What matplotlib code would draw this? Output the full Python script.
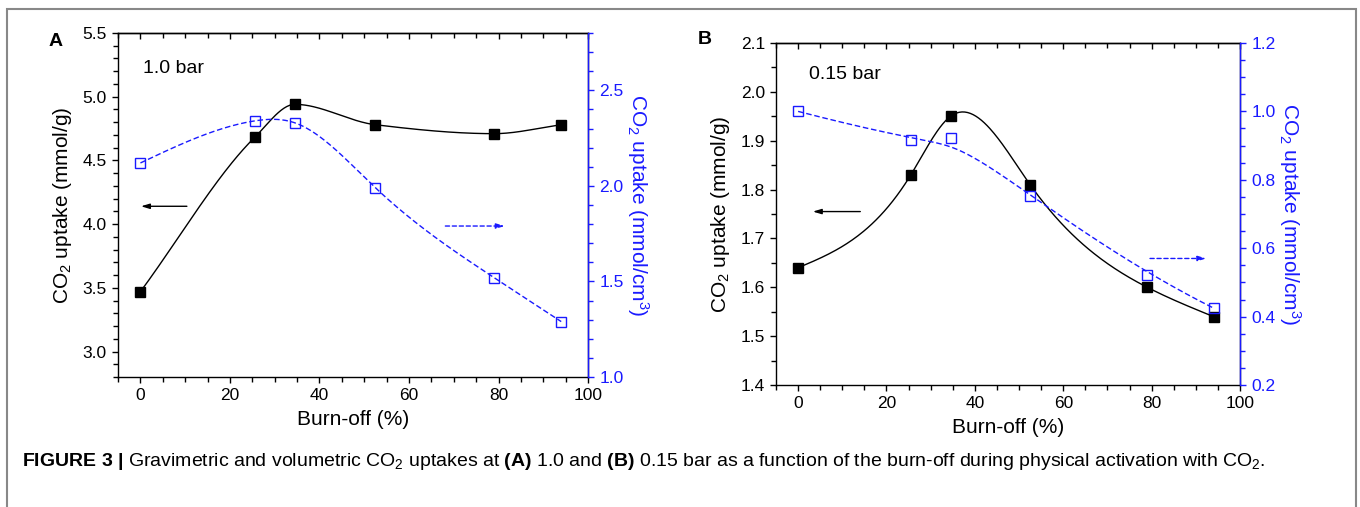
import numpy as np
import matplotlib
matplotlib.use("Agg")
import matplotlib.pyplot as plt
from matplotlib.patches import Rectangle
from matplotlib.ticker import MultipleLocator

plt.rcParams['font.family'] = ['Liberation Sans', 'DejaVu Sans']
plt.rcParams['mathtext.fontset'] = 'custom'
plt.rcParams['mathtext.rm'] = 'Liberation Sans'
plt.rcParams['mathtext.bf'] = 'Liberation Sans:bold'
plt.rcParams['mathtext.it'] = 'Liberation Sans:italic'

# Data
burnoff = [0, 25.5, 34.5, 52.5, 79, 94]
grav_1bar = [3.47, 4.68, 4.94, 4.78, 4.71, 4.78]     # mmol/g
vol_1bar = [2.12, 2.34, 2.33, 1.99, 1.52, 1.29]      # mmol/cm3
grav_015bar = [1.64, 1.83, 1.95, 1.81, 1.60, 1.54]   # mmol/g
vol_015bar = [1.00, 0.915, 0.923, 0.753, 0.522, 0.425]  # mmol/cm3

BLUE = '#1a1aff'
TICK_FS = 12.5
LABEL_FS = 15


# smooth curve through points (natural cubic spline)
def natural_spline(x, y, num=300):
    x = np.asarray(x, float)
    y = np.asarray(y, float)
    n = len(x)
    h = np.diff(x)
    A = np.zeros((n, n))
    r = np.zeros(n)
    A[0, 0] = A[-1, -1] = 1
    for i in range(1, n - 1):
        A[i, i - 1] = h[i - 1]
        A[i, i] = 2 * (h[i - 1] + h[i])
        A[i, i + 1] = h[i]
        r[i] = 3 * ((y[i + 1] - y[i]) / h[i] - (y[i] - y[i - 1]) / h[i - 1])
    c = np.linalg.solve(A, r)
    xs = np.linspace(x[0], x[-1], num)
    idx = np.clip(np.searchsorted(x, xs) - 1, 0, n - 2)
    dx = xs - x[idx]
    b = (y[1:] - y[:-1]) / h - h * (2 * c[:-1] + c[1:]) / 3
    d = (c[1:] - c[:-1]) / (3 * h)
    ys = y[idx] + b[idx] * dx + c[idx] * dx ** 2 + d[idx] * dx ** 3
    return xs, ys


# monotone cubic (no overshoot)
def pchip(x, y, num=300):
    x = np.asarray(x, float)
    y = np.asarray(y, float)
    n = len(x)
    h = np.diff(x)
    delta = np.diff(y) / h
    m = np.zeros(n)
    for i in range(1, n - 1):
        if delta[i - 1] * delta[i] > 0:
            w1 = 2 * h[i] + h[i - 1]
            w2 = h[i] + 2 * h[i - 1]
            m[i] = (w1 + w2) / (w1 / delta[i - 1] + w2 / delta[i])
    m[0] = delta[0]
    m[-1] = delta[-1]
    xs = np.linspace(x[0], x[-1], num)
    idx = np.clip(np.searchsorted(x, xs) - 1, 0, n - 2)
    t = (xs - x[idx]) / h[idx]
    h00 = 2 * t ** 3 - 3 * t ** 2 + 1
    h10 = t ** 3 - 2 * t ** 2 + t
    h01 = -2 * t ** 3 + 3 * t ** 2
    h11 = t ** 3 - t ** 2
    ys = (h00 * y[idx] + h10 * h[idx] * m[idx]
          + h01 * y[idx + 1] + h11 * h[idx] * m[idx + 1])
    return xs, ys


# approximating B-spline with the points as control points
def bspline(xs, ys, k=3, num=300):
    P = np.column_stack([xs, ys]).astype(float)
    n = len(P)
    knots = np.r_[[0.0] * k, np.linspace(0, 1, n - k + 1), [1.0] * k]
    t = np.linspace(0, 1, num)
    t[-1] -= 1e-9
    B = np.array([((knots[i] <= t) & (t < knots[i + 1])).astype(float)
                  for i in range(len(knots) - 1)]).T
    for p in range(1, k + 1):
        Bn = np.zeros((num, len(knots) - 1 - p))
        for i in range(len(knots) - 1 - p):
            d1 = knots[i + p] - knots[i]
            d2 = knots[i + p + 1] - knots[i + 1]
            a = (t - knots[i]) / d1 * B[:, i] if d1 > 0 else 0
            b = (knots[i + p + 1] - t) / d2 * B[:, i + 1] if d2 > 0 else 0
            Bn[:, i] = a + b
        B = Bn
    curve = B @ P
    return curve[:, 0], curve[:, 1]


def style_axes(ax, ax2, ymaj, ymin, y2maj, y2min):
    ax.set_xlim(-5, 100)
    ax.xaxis.set_major_locator(MultipleLocator(20))
    ax.xaxis.set_minor_locator(MultipleLocator(5))
    ax.yaxis.set_major_locator(MultipleLocator(ymaj))
    ax.yaxis.set_minor_locator(MultipleLocator(ymin))
    ax.tick_params(axis='both', which='both', labelsize=TICK_FS, width=1,
                   direction='out', right=False, top=False)
    ax.tick_params(which='major', length=4.5)
    ax.tick_params(which='minor', length=3.5)
    # inward ticks along the top edge
    top = ax.secondary_xaxis('top')
    top.xaxis.set_major_locator(MultipleLocator(20))
    top.xaxis.set_minor_locator(MultipleLocator(5))
    top.tick_params(which='both', direction='in', labeltop=False, width=1)
    top.tick_params(which='major', length=4.5)
    top.tick_params(which='minor', length=3.5)
    top.spines['top'].set_linewidth(1)

    ax2.yaxis.set_major_locator(MultipleLocator(y2maj))
    ax2.yaxis.set_minor_locator(MultipleLocator(y2min))
    ax2.tick_params(axis='y', which='both', colors=BLUE, labelsize=TICK_FS,
                    width=1, direction='out')
    ax2.tick_params(which='major', length=4.5)
    ax2.tick_params(which='minor', length=3.5)
    for s in ['left', 'top', 'bottom']:
        ax2.spines[s].set_visible(False)
    ax2.spines['right'].set_color(BLUE)
    for s in ax.spines.values():
        s.set_linewidth(1)
    ax2.spines['right'].set_linewidth(1)
    ax.set_xlabel('Burn-off (%)', fontsize=LABEL_FS, labelpad=5)
    ax.set_ylabel('CO$_2$ uptake (mmol/g)', fontsize=LABEL_FS, labelpad=6)
    ax2.set_ylabel('CO$_2$ uptake (mmol/cm$^3$)', fontsize=LABEL_FS,
                   color=BLUE, rotation=270, labelpad=20)


ARROW = '-|>,head_length=0.5,head_width=0.15'

fig = plt.figure(figsize=(13.6, 5.07), dpi=100)

# ---- panel A ----
axA = fig.add_axes([0.0868, 0.2564, 0.3456, 0.6785])
axA2 = axA.twinx()
xs, ys = pchip(burnoff, grav_1bar)
axA.plot(xs, ys, color='black', lw=1)
axA.plot(burnoff, grav_1bar, 's', color='black', ms=7.5, zorder=5)
xs, ys = natural_spline(burnoff, vol_1bar)
axA2.plot(xs, ys, color=BLUE, lw=1, ls=(0, (4, 2)))
axA2.plot(burnoff, vol_1bar, 's', mfc='none', mec=BLUE, mew=1, ms=7)
axA.set_ylim(2.8, 5.5)
axA2.set_ylim(1.0, 2.8)
style_axes(axA, axA2, 0.5, 0.1, 0.5, 0.1)
axA.text(0.5, 5.22, '1.0 bar', fontsize=14, va='center')
axA.annotate('', xy=(-0.5, 4.14), xytext=(11, 4.14),
             arrowprops=dict(arrowstyle=ARROW, color='black', lw=1))
axA2.annotate('', xy=(82, 1.79), xytext=(67.5, 1.79),
              arrowprops=dict(arrowstyle=ARROW, color=BLUE, lw=1,
                              ls=(0, (3, 2))))
fig.text(56 / 1360, 1 - 41 / 507, 'A', fontsize=14, fontweight='bold',
         ha='center', va='center')

# ---- panel B ----
axB = fig.add_axes([0.5706, 0.2406, 0.3412, 0.6746])
axB2 = axB.twinx()
xs, ys = natural_spline(burnoff, grav_015bar)
axB.plot(xs, ys, color='black', lw=1)
axB.plot(burnoff, grav_015bar, 's', color='black', ms=7.5, zorder=5)
xs, ys = bspline(burnoff, vol_015bar)
axB2.plot(xs, ys, color=BLUE, lw=1, ls=(0, (4, 2)))
axB2.plot(burnoff, vol_015bar, 's', mfc='none', mec=BLUE, mew=1, ms=7)
axB.set_ylim(1.4, 2.1)
axB2.set_ylim(0.2, 1.2)
style_axes(axB, axB2, 0.1, 0.05, 0.2, 0.05)
axB.text(2.4, 2.035, '0.15 bar', fontsize=14, va='center')
axB.annotate('', xy=(2.7, 1.755), xytext=(14.7, 1.755),
             arrowprops=dict(arrowstyle=ARROW, color='black', lw=1))
axB2.annotate('', xy=(93, 0.57), xytext=(79, 0.57),
              arrowprops=dict(arrowstyle=ARROW, color=BLUE, lw=1,
                              ls=(0, (3, 2))))
fig.text(705 / 1360, 1 - 39 / 507, 'B', fontsize=14, fontweight='bold',
         ha='center', va='center')

# caption
caption = (r'$\bf{FIGURE\ 3\ |}$ Gravimetric and volumetric CO$_2$ uptakes at '
           r'$\bf{(A)}$ 1.0 and $\bf{(B)}$ 0.15 bar as a function of the '
           r'burn-off during physical activation with CO$_2$.')
fig.text(22 / 1360, 1 - 462 / 507, caption, fontsize=14, va='center',
         ha='left')

# outer frame
fig.patches.append(Rectangle((7 / 1360, -0.05), 1349 / 1360, 1.05 - 9 / 507,
                             transform=fig.transFigure, fill=False,
                             edgecolor='#888888', lw=1.5, zorder=0))

fig.savefig('out.png', dpi=100)
